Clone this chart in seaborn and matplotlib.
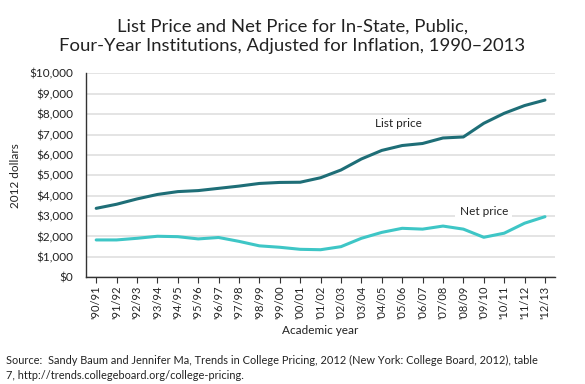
import numpy as np
import pandas as pd
import matplotlib
matplotlib.use("Agg")
import matplotlib.pyplot as plt
import seaborn as sns

# Academic years and prices (2012 dollars)
years = ["'90/91", "'91/92", "'92/93", "'93/94", "'94/95", "'95/96", "'96/97",
         "'97/98", "'98/99", "'99/00", "'00/01", "'01/02", "'02/03", "'03/04",
         "'04/05", "'05/06", "'06/07", "'07/08", "'08/09", "'09/10", "'10/11",
         "'11/12", "'12/13"]
list_price = [3380, 3580, 3840, 4060, 4200, 4250, 4360, 4470, 4600, 4650, 4660,
              4880, 5260, 5800, 6220, 6460, 6560, 6830, 6880, 7550, 8040, 8420, 8690]
net_price = [1830, 1830, 1910, 2010, 1990, 1880, 1950, 1760, 1540, 1470, 1370,
             1350, 1500, 1910, 2200, 2400, 2360, 2510, 2360, 1960, 2160, 2650, 2970]

df = pd.DataFrame({"year": years, "List price": list_price, "Net price": net_price})
df["x"] = np.arange(len(years))

sns.set_theme(style="white")
plt.rcParams["font.family"] = ["Lato", "DejaVu Sans"]

list_color = "#1e6e77"
net_color = "#3ec6c6"

fig = plt.figure(figsize=(5.85, 3.84), dpi=100)
ax = fig.add_axes([0.147, 0.278, 0.802, 0.531])

sns.lineplot(data=df, x="x", y="List price", ax=ax, color=list_color, linewidth=2.2)
sns.lineplot(data=df, x="x", y="Net price", ax=ax, color=net_color, linewidth=2.2)

ax.set_xlim(-0.5, len(years) - 0.5)
ax.set_ylim(0, 10000)
ax.set_yticks(range(0, 10001, 1000))
ax.set_yticklabels([f"${v:,}" for v in range(0, 10001, 1000)], fontsize=8.5, color="#222222")
ax.set_xticks(df["x"])
ax.set_xticklabels(years, rotation=90, fontsize=8, color="#222222")
ax.tick_params(axis="x", bottom=True, length=4, width=0.8, color="#333333", pad=2)
ax.tick_params(axis="y", left=False, pad=3)

ax.yaxis.grid(True, color="#e2e2e2", linewidth=1.3)
ax.set_axisbelow(True)
for s in ["top", "right"]:
    ax.spines[s].set_visible(False)
for s in ["left", "bottom"]:
    ax.spines[s].set_color("#333333")
    ax.spines[s].set_linewidth(1.0)

ax.set_xlabel("Academic year", fontsize=8.5, color="#222222", labelpad=4)
ax.set_ylabel("2012 dollars", fontsize=8.5, color="#222222", labelpad=6)

ax.text(14.8, 7520, "List price", fontsize=8.5, color="#222222", ha="center", va="center")
ax.text(19.0, 3200, "Net price", fontsize=8.5, color="#222222", ha="center", va="center",
        bbox=dict(facecolor="white", edgecolor="none", pad=3))

fig.text(0.5, 0.906, "List Price and Net Price for In-State, Public,\nFour-Year Institutions, Adjusted for Inflation, 1990\u20132013",
         ha="center", va="center", fontsize=13.3, color="#222222", linespacing=1.3)
fig.text(0.01, 0.042, "Source:  Sandy Baum and Jennifer Ma, Trends in College Pricing, 2012 (New York: College Board, 2012), table\n7, http://trends.collegeboard.org/college-pricing.",
         ha="left", va="center", fontsize=7.9, color="#222222", linespacing=1.45)

fig.savefig("out.png", dpi=100)
